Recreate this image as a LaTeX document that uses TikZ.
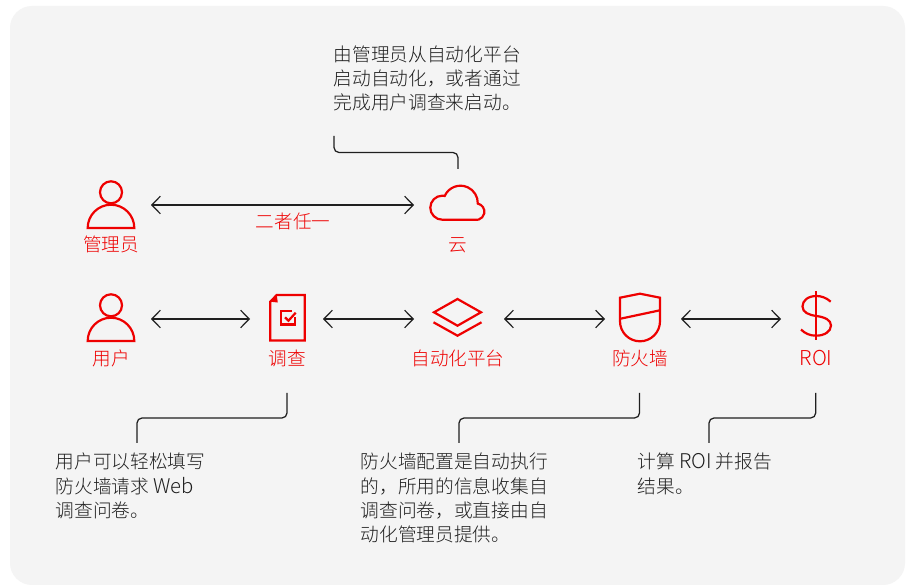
\documentclass[tikz,border=0pt]{standalone}
\usepackage{fontspec}
\setmainfont[UprightFont={* Light}]{Noto Sans CJK SC}
\usetikzlibrary{arrows.meta}
\definecolor{rhred}{HTML}{EE0000}
\definecolor{labred}{HTML}{EE0000}
\definecolor{bgpanel}{HTML}{F4F4F4}
\definecolor{ink}{HTML}{1F1F1F}
\newcommand{\latn}[1]{{\fontsize{20.3}{24.3}\selectfont #1}}
\tikzset{
  icon/.style={draw=rhred,line width=2.2pt,line join=miter},
  anchorbox/.style={inner sep=0pt,outer sep=0pt,minimum height=48pt},
  link/.style={draw=ink,line width=1.2pt,{Straight Barb[length=8.5pt,width=17.5pt,line width=1.2pt]}-{Straight Barb[length=8.5pt,width=17.5pt,line width=1.2pt]}},
  bracket/.style={draw=ink,line width=1.25pt,rounded corners=5pt},
  redlabel/.style={text=labred,font=\fontsize{18.6}{22}\selectfont,inner sep=0pt},
  note/.style={text=ink,font=\fontsize{18.7}{24.3}\selectfont,align=left,inner sep=0pt,anchor=north west}
}
\begin{document}
\begin{tikzpicture}[x=1pt,y=-1pt]
\useasboundingbox (0,0) rectangle (911,585);
\fill[white] (0,0) rectangle (911,585);
\fill[bgpanel,rounded corners=22pt] (10,6) rectangle (905,585);

% anchor boxes used by the connectors
\node[anchorbox,minimum width=80pt] (admin) at (111,205) {};
\node[anchorbox,minimum width=88pt] (cloud) at (458,205) {};
\node[anchorbox,minimum width=80pt] (user) at (111,319) {};
\node[anchorbox,minimum width=73pt] (survey) at (286.5,319) {};
\node[anchorbox,minimum width=90pt] (platform) at (459,319) {};
\node[anchorbox,minimum width=76pt] (firewall) at (643,319) {};
\node[anchorbox,minimum width=70pt] (roi) at (816,319) {};

% person icons
\draw[icon] (111,192.3) circle[radius=11];
\draw[icon] (87.7,228) arc[start angle=180,end angle=360,radius=23.3] -- cycle;
\draw[icon] (111,305.3) circle[radius=11];
\draw[icon] (87.7,341) arc[start angle=180,end angle=360,radius=23.3] -- cycle;

% cloud
\draw[icon] (442.3,219.7) arc[start angle=90,end angle=270,radius=12] -- (444.7,195.96)
  arc[start angle=204,end angle=362,radius=17.3]
  arc[start angle=282,end angle=463,radius=8.3] -- cycle;

% survey
\draw[icon] (276.7,295) -- (304.7,295) -- (304.7,340.5) -- (270.3,340.5) -- (270.3,301.7) -- cycle;
\fill[rhred] (276.7,295) -- (277.8,302.5) -- (270.3,301.7) -- cycle;
\draw[rhred,line width=2.2pt] (292,311) -- (281,311) -- (281,324.5) -- (294.8,324.5) -- (294.8,317);
\draw[rhred,line width=2.2pt] (285,317.3) -- (288.5,320.7) -- (295.7,312.7);

% layers
\draw[icon] (457.5,299) -- (481,312.3) -- (457.5,325.7) -- (434,312.3) -- cycle;
\draw[icon] (433.5,322.3) -- (457.5,335.7) -- (481.5,322.3);

% firewall
\draw[icon] (620,297.7) -- (640,293.7) -- (660,297.7) -- (660,321.3)
  arc[start angle=0,end angle=180,radius=20] -- cycle;
\draw[icon] (620.5,318.7) -- (660,310.3);

% dollar
\draw[rhred,line width=2.2pt] (816,291.3) -- (816,340);
\draw[rhred,line width=2.2pt] (830.7,301.7) .. controls (826,297.5) and (821,296) .. (816.5,296)
  .. controls (808,296) and (802.5,300.5) .. (802.5,306.5)
  .. controls (802.5,312.5) and (809,315) .. (816.5,316)
  .. controls (825,317.2) and (831,320) .. (831,325.5)
  .. controls (831,331.5) and (824.5,335.7) .. (816,335.7)
  .. controls (810,335.7) and (805,333.5) .. (801,329.5);

% red labels
\node[redlabel] (ladmin) at (111,244.5) {管理员};
\node[redlabel] (either) at (293,221.5) {二者任一};
\node[redlabel] (lcloud) at (458,245) {云};
\node[redlabel] (luser) at (111,358) {用户};
\node[redlabel] (lsurvey) at (287,358) {调查};
\node[redlabel] (lplatform) at (458,358) {自动化平台};
\node[redlabel] (lfirewall) at (640,358) {防火墙};
\node[redlabel,font=\fontsize{20.5}{22}\selectfont] (lroi) at (816,358) {ROI};

% notes
\node[note] (ntop) at (333.5,45.5) {由管理员从自动化平台\\启动自动化，或者通过\\完成用户调查来启动。};
\node[note] (nsurvey) at (55.5,453) {用户可以轻松填写\\防火墙请求 \latn{Web}\\调查问卷。};
\node[note] (nfire) at (360.5,453) {防火墙配置是自动执行\\的，所用的信息收集自\\调查问卷，或直接由自\\动化管理员提供。};
\node[note] (nroi) at (637.5,453) {计算 \latn{ROI} 并报告\\结果。};

% arrows
\draw[link] (admin) -- (cloud);
\draw[link] (user) -- (survey);
\draw[link] (survey) -- (platform);
\draw[link] (platform) -- (firewall);
\draw[link] (firewall) -- (roi);

% brackets
\coordinate (b1a) at (334,136);
\coordinate (b1b) at (458,169);
\draw[bracket] (b1a) |- (396,152.5) -| (b1b);
\coordinate (b2a) at (287,393);
\coordinate (b2b) at (137,443);
\draw[bracket] (b2a) |- (212,418) -| (b2b);
\coordinate (b3a) at (639.5,393);
\coordinate (b3b) at (459,443);
\draw[bracket] (b3a) |- (549,418) -| (b3b);
\coordinate (b4a) at (815.7,393);
\coordinate (b4b) at (709,443);
\draw[bracket] (b4a) |- (762,418) -| (b4b);
\end{tikzpicture}
\end{document}
